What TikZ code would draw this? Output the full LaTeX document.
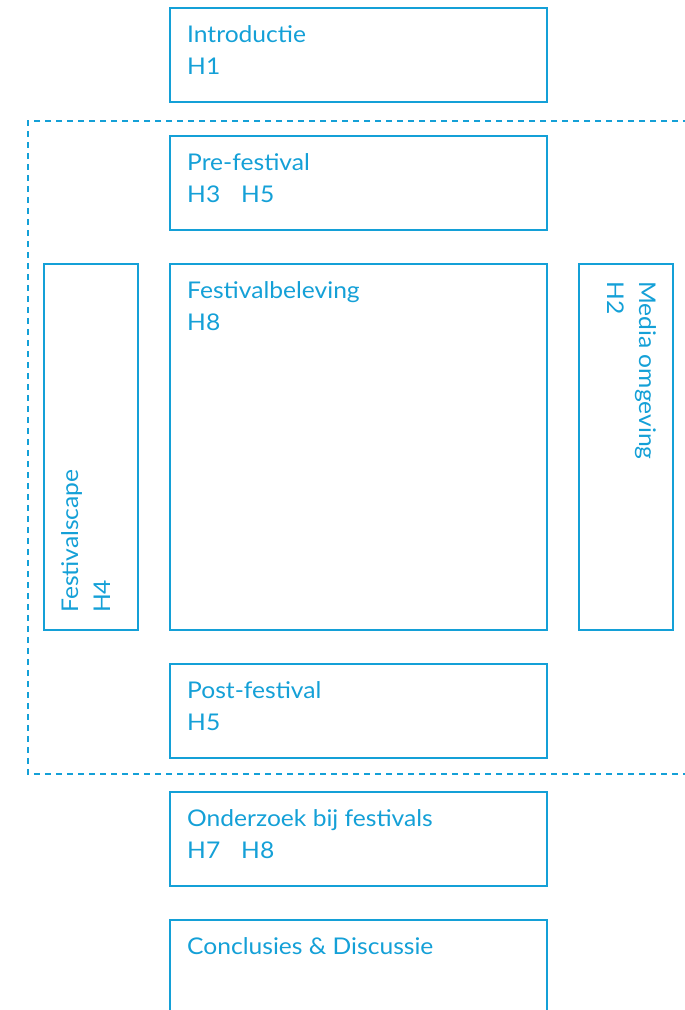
\documentclass[tikz,border=0pt]{standalone}
\usepackage{fontspec}
\setmainfont{Lato}[FakeStretch=1.07]
\definecolor{fblue}{RGB}{20,160,215}
\begin{document}
\begin{tikzpicture}[x=1pt,y=-1pt,
  box/.style={draw=fblue,line width=1.5pt},
  lbl/.style={anchor=base west,inner sep=0pt,text=fblue,font=\fontsize{23}{30}\selectfont},
  frame/.style={draw=fblue,line width=1.5pt,dash pattern=on 6pt off 5pt}]
\clip (0,0) rectangle (685,1010);
\path[use as bounding box] (0,0) rectangle (685,1010);
% boxes
\draw[box] (170,8) rectangle (547,102);
\node[lbl] (introA) at (187,42) {Introductie};
\node[lbl] (introB) at (187,74) {H1};

\draw[box] (170,136) rectangle (547,230);
\node[lbl] (preA) at (187,170) {Pre-festival};
\node[lbl] (preB) at (187,202) {H3};
\node[lbl] (preC) at (241,202) {H5};

\draw[box] (170,264) rectangle (547,630);
\node[lbl] (belA) at (187,298) {Festivalbeleving};
\node[lbl] (belB) at (187,330) {H8};

\draw[box] (44,264) rectangle (138,630);
\node[lbl,rotate=90] (scA) at (78,613) {Festivalscape};
\node[lbl,rotate=90] (scB) at (110,613) {H4};

\draw[box] (579,264) rectangle (673,630);
\node[lbl,rotate=-90] (medA) at (639,281) {Media omgeving};
\node[lbl,rotate=-90] (medB) at (607,281) {H2};

\draw[box] (170,664) rectangle (547,758);
\node[lbl] (postA) at (187,698) {Post-festival};
\node[lbl] (postB) at (187,730) {H5};

\draw[box] (170,792) rectangle (547,886);
\node[lbl] (ondA) at (187,826) {Onderzoek bij festivals};
\node[lbl] (ondB) at (187,858) {H7};
\node[lbl] (ondC) at (241,858) {H8};

\draw[box] (170,920) rectangle (547,1030);
\node[lbl] (concA) at (187,954) {Conclusies \& Discussie};

% dashed frame
\draw[frame] (700,121) -- (28,121) -- (28,774) -- (700,774);
\end{tikzpicture}
\end{document}
